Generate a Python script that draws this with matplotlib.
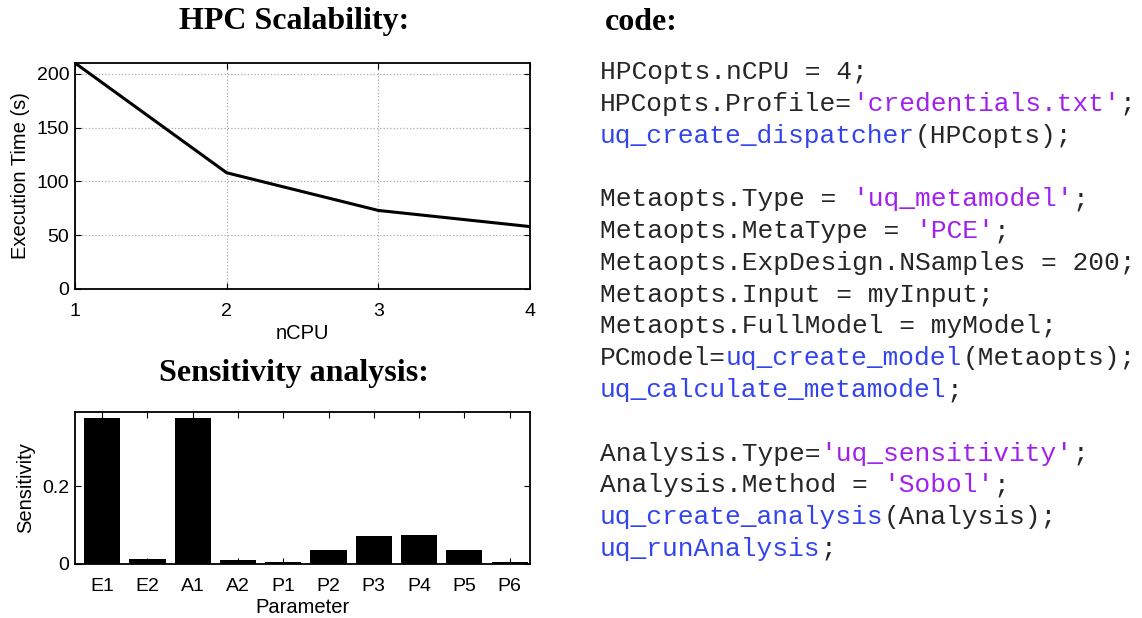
import matplotlib.pyplot as plt

# HPC scalability
ncpu = [1, 2, 3, 4]
exec_time = [210, 108, 73, 58]

# Sensitivity analysis
params = ["E1", "E2", "A1", "A2", "P1", "P2", "P3", "P4", "P5", "P6"]
sensitivity = [0.377, 0.012, 0.377, 0.010, 0.005, 0.036, 0.073, 0.074, 0.036, 0.004]

# code listing: (text, kind) segments per line, None = blank line
code_lines = [
    [("HPCopts.nCPU = 4;", "plain")],
    [("HPCopts.Profile=", "plain"), ("'credentials.txt'", "str"), (";", "plain")],
    [("uq_create_dispatcher", "func"), ("(HPCopts);", "plain")],
    None,
    [("Metaopts.Type = ", "plain"), ("'uq_metamodel'", "str"), (";", "plain")],
    [("Metaopts.MetaType = ", "plain"), ("'PCE'", "str"), (";", "plain")],
    [("Metaopts.ExpDesign.NSamples = 200;", "plain")],
    [("Metaopts.Input = myInput;", "plain")],
    [("Metaopts.FullModel = myModel;", "plain")],
    [("PCmodel=", "plain"), ("uq_create_model", "func"), ("(Metaopts);", "plain")],
    [("uq_calculate_metamodel", "func"), (";", "plain")],
    None,
    [("Analysis.Type=", "plain"), ("'uq_sensitivity'", "str"), (";", "plain")],
    [("Analysis.Method = ", "plain"), ("'Sobol'", "str"), (";", "plain")],
    [("uq_create_analysis", "func"), ("(Analysis);", "plain")],
    [("uq_runAnalysis", "func"), (";", "plain")],
]
COLORS = {"plain": "#262626", "str": "#A020F0", "func": "#3344EE"}

W, H, DPI = 1142, 618, 100
plt.rcParams["font.family"] = ["Liberation Sans", "DejaVu Sans"]

fig = plt.figure(figsize=(W / DPI, H / DPI), dpi=DPI)


def style(ax):
    ax.tick_params(direction="in", top=True, right=True, labelsize=14, length=4)
    ax.tick_params(axis="x", pad=10)
    ax.tick_params(axis="y", pad=4)
    for s in ax.spines.values():
        s.set_linewidth(1.3)


ax1 = fig.add_axes([75 / W, 1 - 289 / H, 455 / W, 226 / H])
ax1.plot(ncpu, exec_time, color="black", lw=2.2)
ax1.set_xlim(1, 4)
ax1.set_ylim(0, 210)
ax1.set_xticks(ncpu)
ax1.set_yticks([0, 50, 100, 150, 200])
ax1.grid(True, linestyle=":", color="#aaaaaa", lw=0.9)
ax1.set_xlabel("nCPU", fontsize=14.5, labelpad=3)
ax1.set_ylabel("Execution Time (s)", fontsize=14.5, labelpad=5)
style(ax1)

ax2 = fig.add_axes([75 / W, 1 - 564 / H, 455 / W, 152 / H])
ax2.bar(range(len(params)), sensitivity, width=0.8, color="black")
ax2.set_xlim(-0.6, len(params) - 0.55)
ax2.set_ylim(0, 0.392)
ax2.set_xticks(range(len(params)))
ax2.set_xticklabels(params)
ax2.set_yticks([0, 0.2])
ax2.set_yticklabels(["0", "0.2"])
ax2.set_xlabel("Parameter", fontsize=14.5, labelpad=2)
ax2.set_ylabel("Sensitivity", fontsize=14.5, labelpad=5)
style(ax2)

title_kw = dict(family=["Liberation Serif", "DejaVu Serif"], weight="bold",
                fontsize=23, va="center")
fig.text(294 / W, 1 - 22 / H, "HPC Scalability:", ha="center", **title_kw)
fig.text(294 / W, 1 - 374 / H, "Sensitivity analysis:", ha="center", **title_kw)
fig.text(605 / W, 1 - 22 / H, "code:", ha="left", **title_kw)

# monospace listing, colour segments placed by character count
code_fs = 18.9
char_w = 0.6 * code_fs * DPI / 72
x0, y0, dy = 600, 72, 31.8
for i, line in enumerate(code_lines):
    if line is None:
        continue
    col = 0
    for text, kind in line:
        fig.text((x0 + col * char_w) / W, 1 - (y0 + i * dy) / H, text,
                 family=["Liberation Mono", "DejaVu Sans Mono"], fontsize=code_fs,
                 color=COLORS[kind], ha="left", va="center")
        col += len(text)

fig.savefig("out.png", dpi=DPI)
